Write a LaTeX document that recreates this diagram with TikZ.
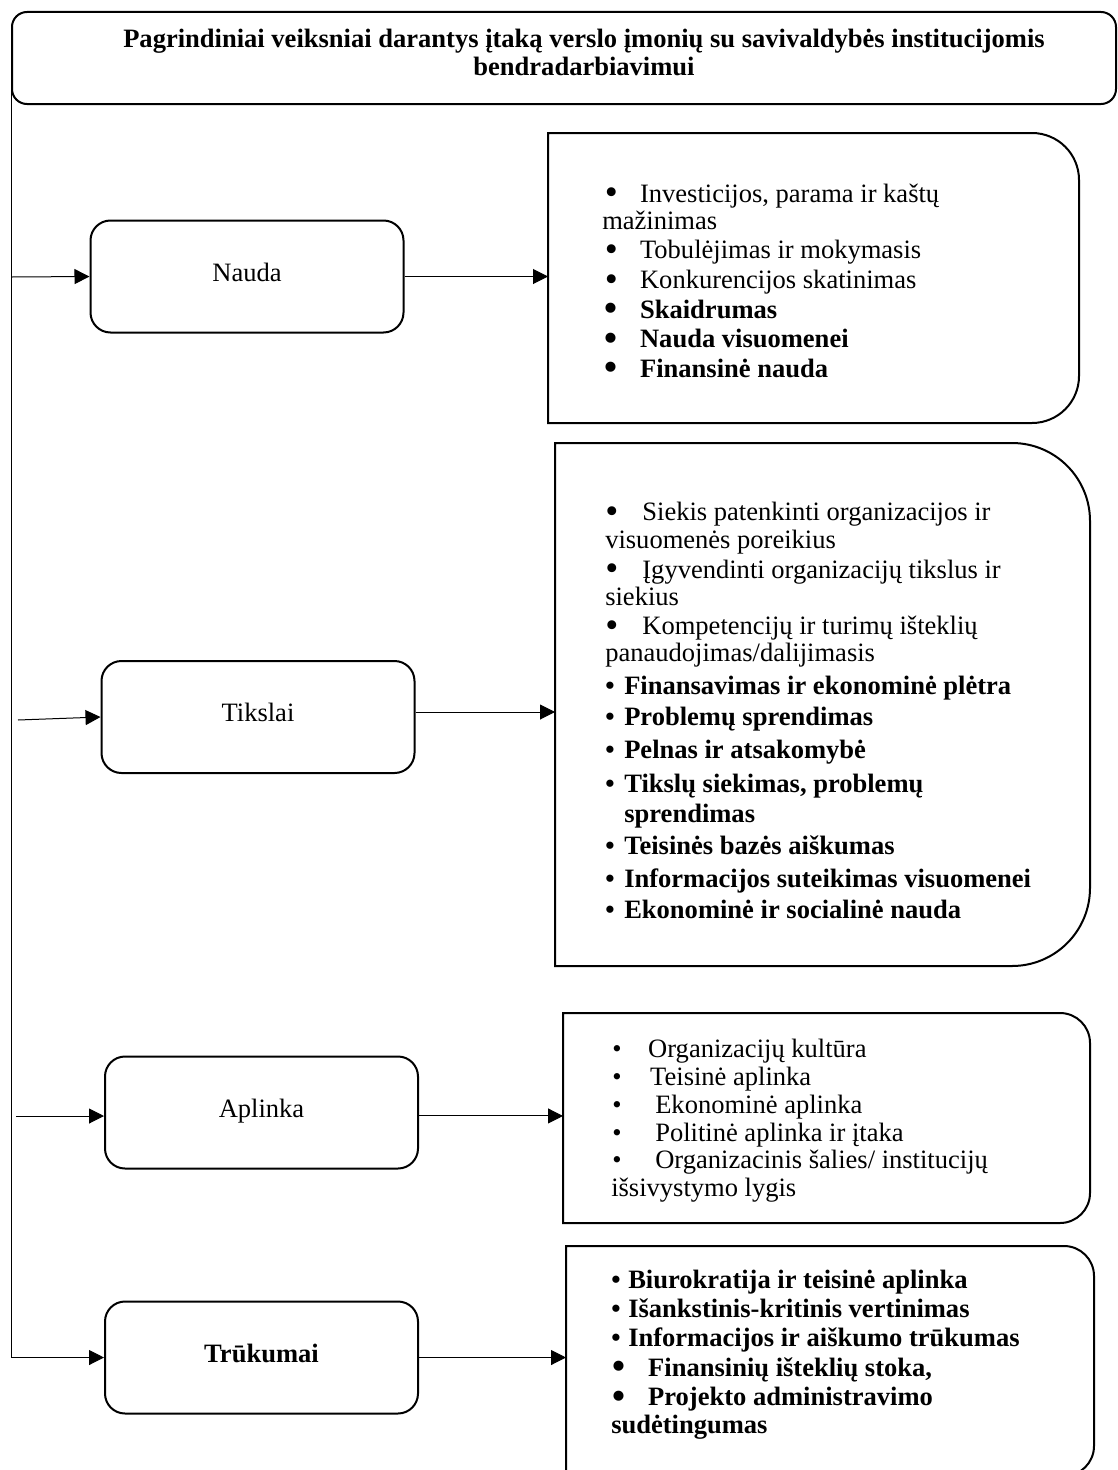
\documentclass[tikz,border=0pt]{standalone}
\usepackage{fontspec}
\setmainfont{Liberation Serif}
\usetikzlibrary{arrows.meta,positioning}

\newcommand{\blt}[2]{\hspace*{#1}\textbullet\hspace*{#2}}
\newcommand{\bblt}[2]{\hspace*{#1}\raisebox{-2pt}{\scalebox{1.4}{\textbullet}}\hspace*{#2}}
\newcommand{\roundright}[2]{%
	\draw[boxline] (#1.north west) -- ([xshift=-#2]#1.north east)
		arc[start angle=90, end angle=0, radius=#2] -- ([yshift=#2]#1.south east)
		arc[start angle=0, end angle=-90, radius=#2] -- (#1.south west) -- cycle;}

\begin{document}
\begin{tikzpicture}[x=0.75pt, y=0.75pt,
	font=\fontsize{19.9pt}{22.2pt}\selectfont,
	boxline/.style={black, line width=1.5pt},
	arrow/.style={black, line width=0.75pt, -{Triangle[length=11.25pt,width=11.25pt]}},
	factor/.style={boxline, draw, rounded corners=15pt, minimum width=234.75pt, minimum height=84pt,
		inner sep=0pt, text height=13.5pt, text depth=6.75pt},
	listframe/.style 2 args={minimum width=#1, minimum height=#2, inner sep=0pt, outer sep=0pt},
	items/.style={anchor=north west, align=left, inner sep=0pt}]
	\useasboundingbox (0,0) rectangle (1117,-1470);
	% title
	\node[boxline, draw, rounded corners=11.25pt, minimum width=828pt, minimum height=69pt] (titlebox) at (564,-58) {};
	\node[anchor=north, align=center, inner sep=0pt, font=\fontsize{19.9pt}{21pt}\selectfont\bfseries] (title) at (584,-28.5)
		{Pagrindiniai veiksniai darantys įtaką verslo įmonių su savivaldybės institucijomis\\ bendradarbiavimui};

	% factors
	\node[factor] (nauda) at (247,-276.5) {Nauda};
	\node[factor] (tikslai) at (258,-717) {Tikslai};
	\node[factor] (aplinka) at (261.5,-1112.5) {Aplinka};
	\node[factor, font=\fontsize{19.9pt}{22.2pt}\selectfont\bfseries] (trukumai) at (261.5,-1357.5) {Trūkumai};

	% frames
	\node[listframe={398.25pt}{217.5pt}] (naudaframe) at (813.5,-278) {};
	\roundright{naudaframe}{35.25pt}
	\node[listframe={401.25pt}{392.25pt}] (tikslaiframe) at (822.5,-704.5) {};
	\roundright{tikslaiframe}{58.5pt}
	\node[listframe={395.25pt}{157.5pt}] (aplinkaframe) at (826.5,-1118) {};
	\roundright{aplinkaframe}{22.5pt}
	\node[listframe={396pt}{172.5pt}] (trukumaiframe) at (830,-1361) {};
	\roundright{trukumaiframe}{22.5pt}

	% lists
	\node[items] (naudalist) at (602,-183.5) {%
		\bblt{2pt}{16.6pt}Investicijos, parama ir kaštų\\[-1.95pt]
		mažinimas\\
		\bblt{2pt}{16.6pt}Tobulėjimas ir mokymasis\\
		\bblt{2pt}{16.6pt}Konkurencijos skatinimas\\
		\textbf{\bblt{2pt}{16.6pt}Skaidrumas}\\
		\textbf{\bblt{2pt}{16.6pt}Nauda visuomenei}\\
		\textbf{\bblt{2pt}{16.6pt}Finansinė nauda}};
	\node[items, font=\fontsize{19.9pt}{22.1pt}\selectfont] (tikslailist) at (605,-502) {%
		\bblt{0pt}{18.1pt}Siekis patenkinti organizacijos ir\\[-1.1pt]
		visuomenės poreikius\\
		\bblt{0pt}{18.1pt}Įgyvendinti organizacijų tikslus ir\\[-1.9pt]
		siekius\\
		\bblt{0pt}{18.1pt}Kompetencijų ir turimų išteklių\\[-1.9pt]
		panaudojimas/dalijimasis\\[2.6pt]
		\textbf{\blt{0pt}{7.3pt}Finansavimas ir ekonominė plėtra}\\[1.1pt]
		\textbf{\blt{0pt}{7.3pt}Problemų sprendimas}\\[2.6pt]
		\textbf{\blt{0pt}{7.3pt}Pelnas ir atsakomybė}\\[3.4pt]
		\textbf{\blt{0pt}{7.3pt}Tikslų siekimas, problemų}\\[0.4pt]
		\textbf{\hspace*{14.3pt}sprendimas}\\[1.9pt]
		\textbf{\blt{0pt}{7.3pt}Teisinės bazės aiškumas}\\[2.6pt]
		\textbf{\blt{0pt}{7.3pt}Informacijos suteikimas visuomenei}\\[1.1pt]
		\textbf{\blt{0pt}{7.3pt}Ekonominė ir socialinė nauda}};
	\node[items, font=\fontsize{19.9pt}{20.85pt}\selectfont] (aplinkalist) at (611,-1039) {%
		\blt{0.75pt}{20pt}Organizacijų kultūra\\
		\blt{0.75pt}{21.5pt}Teisinė aplinka\\
		\blt{0.75pt}{25.3pt}Ekonominė aplinka\\
		\blt{0.75pt}{25.3pt}Politinė aplinka ir įtaka\\
		\blt{0.75pt}{25.3pt}Organizacinis šalies/ institucijų\\
		išsivystymo lygis};
	\node[items, font=\fontsize{19.9pt}{22pt}\selectfont\bfseries] (trukumailist) at (611,-1269.5) {%
		\blt{0pt}{5.8pt}Biurokratija ir teisinė aplinka\\
		\blt{0pt}{5.8pt}Išankstinis-kritinis vertinimas\\
		\blt{0pt}{5.8pt}Informacijos ir aiškumo trūkumas\\
		\bblt{0.75pt}{17.2pt}Finansinių išteklių stoka,\\
		\bblt{0.75pt}{17.2pt}Projekto administravimo\\[-1pt]
		sudėtingumas};

	% arrows in
	\coordinate (naudain) at (12,-277);
	\coordinate (tikslaiin) at (18,-720);
	\coordinate (aplinkain) at (16,-1116);
	\draw[arrow] ([yshift=11.25pt]titlebox.south west) |- (trukumai.west);
	\draw[arrow] (naudain) -- (nauda.west);
	\draw[arrow] (tikslaiin) -- (tikslai.west);
	\draw[arrow] (aplinkain) -- (aplinkain -| aplinka.west);

	% arrows out
	\coordinate (tikslaiout) at ([yshift=3.75pt]tikslai.east);
	\coordinate (aplinkaout) at ([yshift=-2.6pt]aplinka.east);
	\draw[arrow] (nauda.east) -- (nauda.east -| naudaframe.west);
	\draw[arrow] (tikslaiout) -- (tikslaiout -| tikslaiframe.west);
	\draw[arrow] (aplinkaout) -- (aplinkaout -| aplinkaframe.west);
	\draw[arrow] (trukumai.east) -- (trukumai.east -| trukumaiframe.west);
\end{tikzpicture}
\end{document}
